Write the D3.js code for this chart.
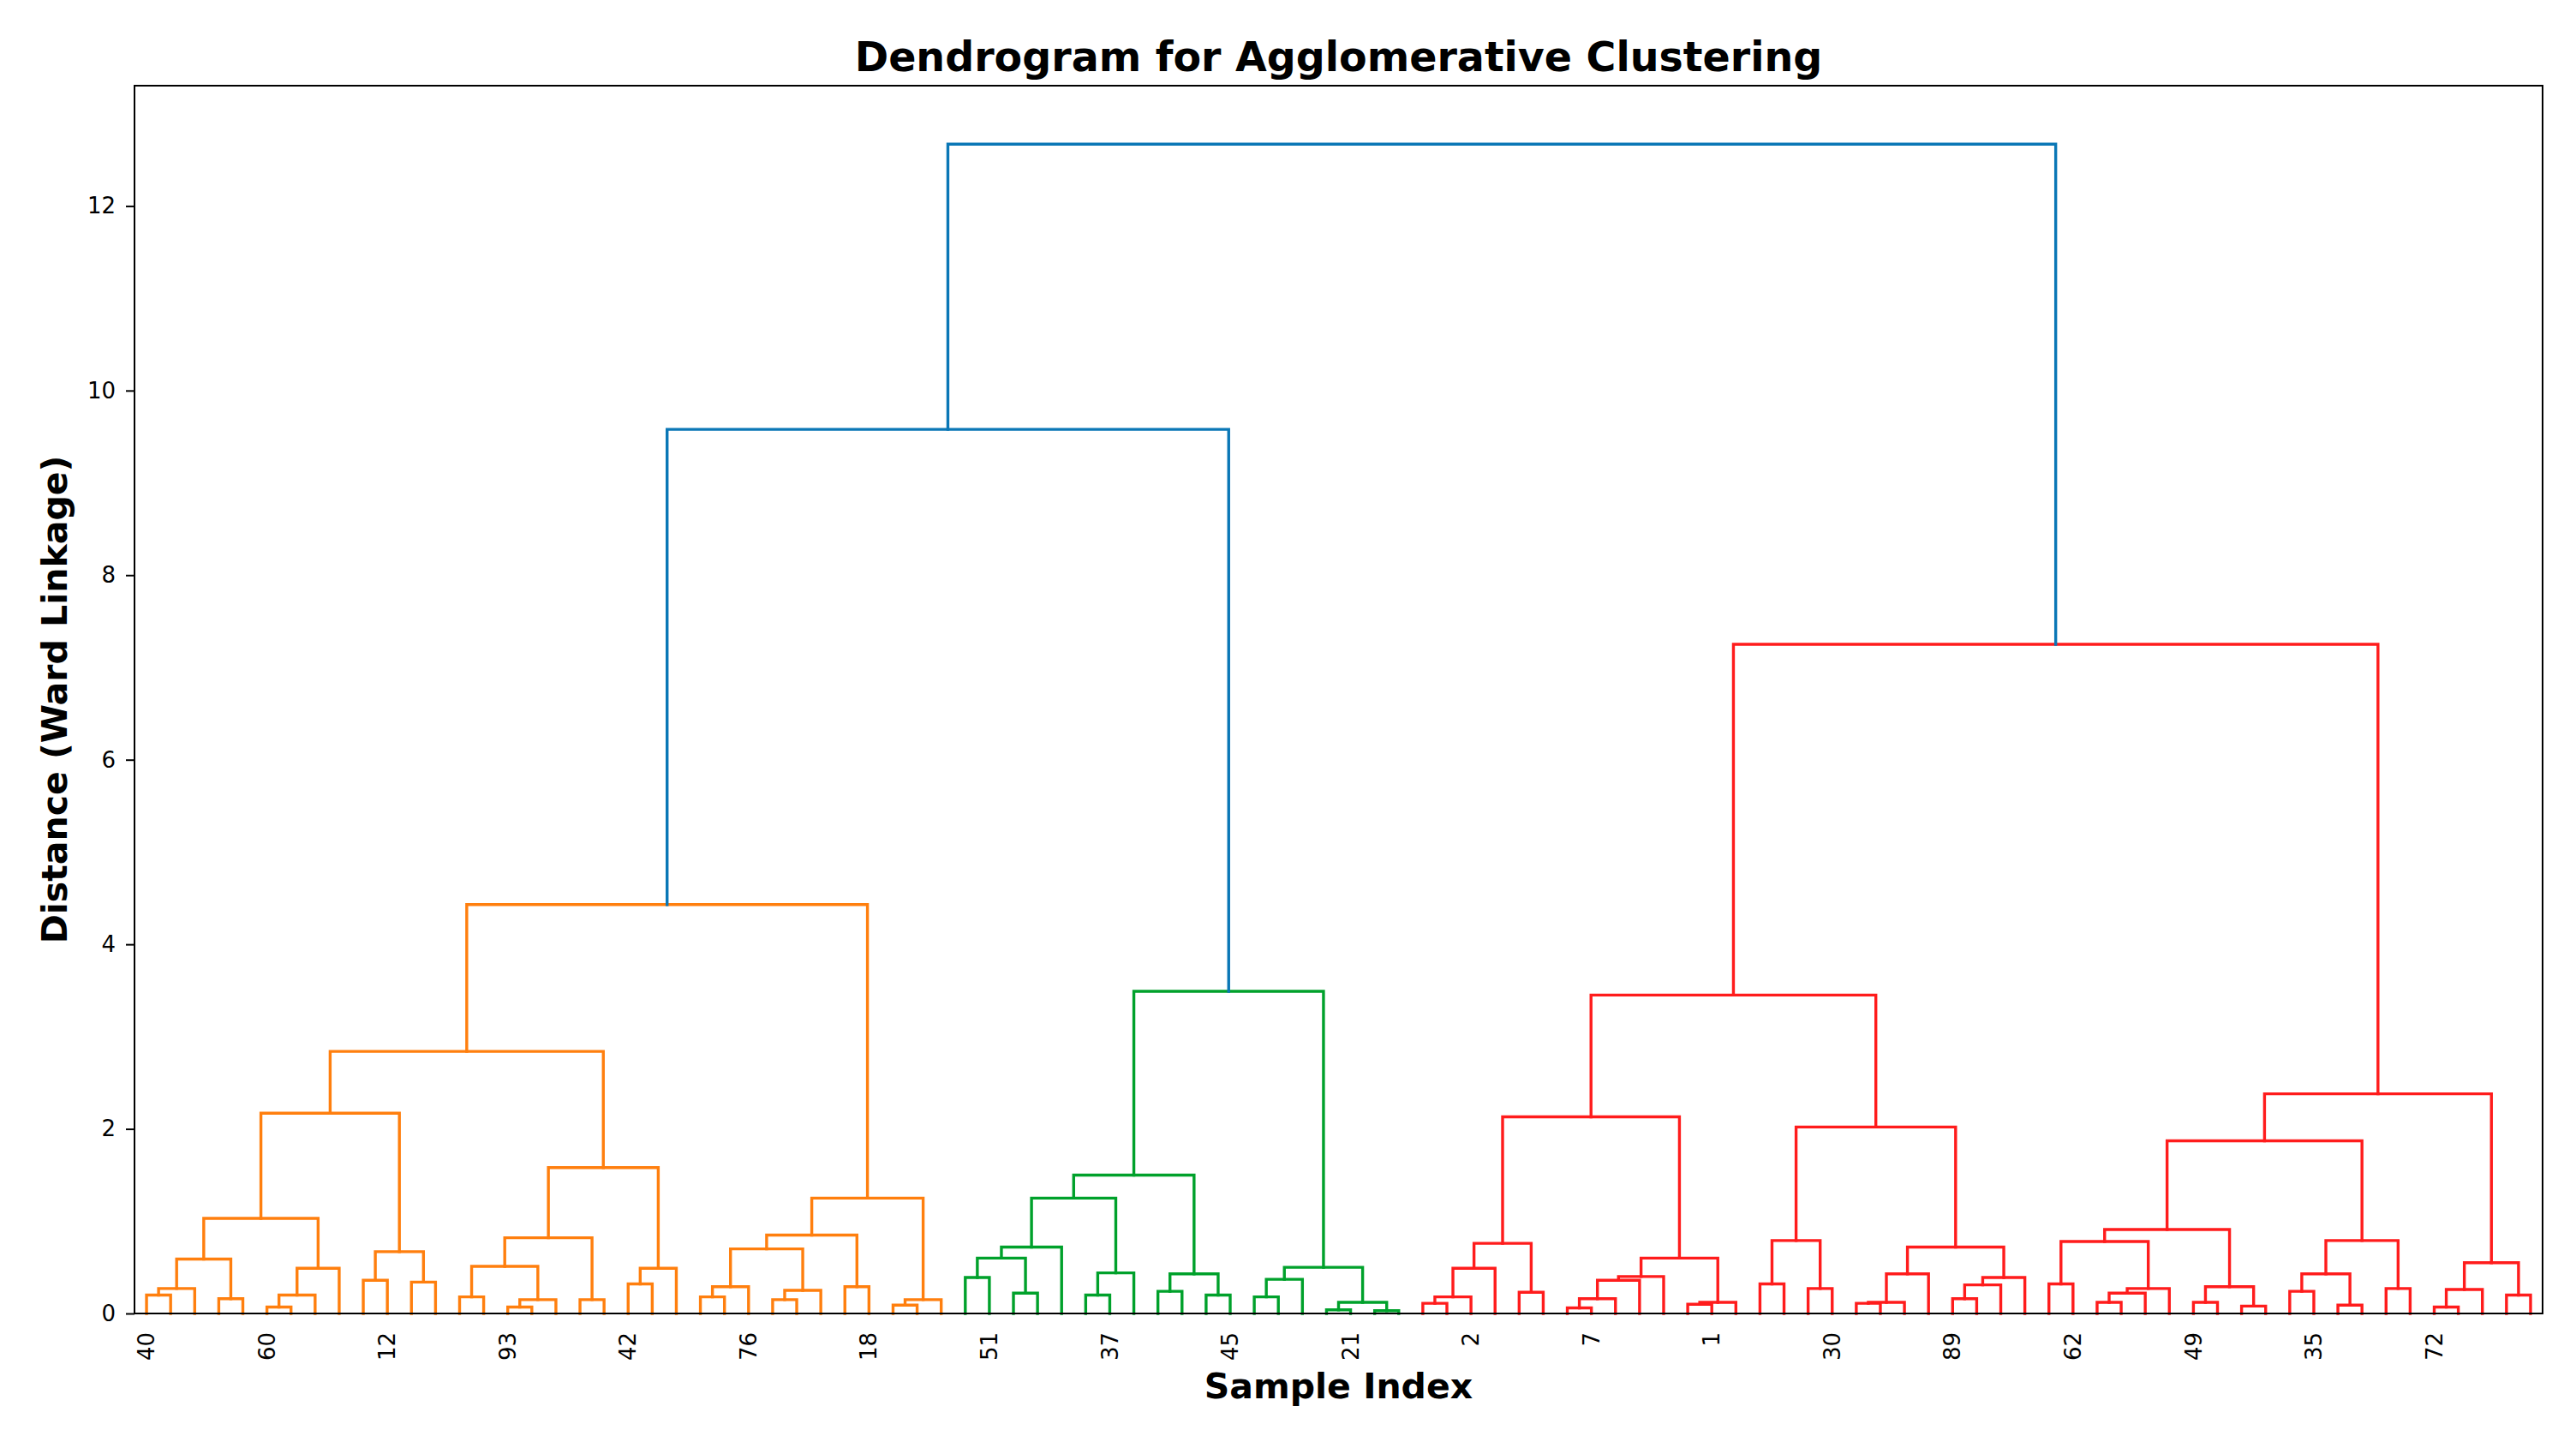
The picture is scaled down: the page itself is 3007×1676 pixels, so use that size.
<!DOCTYPE html>
<html>
<head>
<meta charset="utf-8">
<script src="https://cdn.jsdelivr.net/npm/d3@7"></script>
<style>
  html, body { margin: 0; padding: 0; background: #ffffff; }
  svg { display: block; }
  text { font-family: "DejaVu Sans", sans-serif; }
</style>
</head>
<body>
<div id="chart"></div>
<script>
// ---------------- DATA ----------------
const leafCount = 100;

// leaf positions (display order) that carry a tick label, and their labels
const tickLeafPositions = [0, 5, 10, 15, 20, 25, 30, 35, 40, 45, 50, 55, 60, 65, 70, 75, 80, 85, 90, 95];
const tickLabels = ["40", "60", "12", "93", "42", "76", "18", "51", "37", "45",
                    "21", "2", "7", "1", "30", "89", "62", "49", "35", "72"];

// linkage: [childA, childB, distance]; ids 0..99 are leaves (display order),
// id 100+k refers to merge k of this list
const merges = [
  [0, 1, 0.20], [100, 2, 0.27], [3, 4, 0.16], [101, 102, 0.59],
  [5, 6, 0.07], [104, 7, 0.20], [105, 8, 0.49], [103, 106, 1.03],
  [9, 10, 0.36], [11, 12, 0.34], [108, 109, 0.67], [107, 110, 2.17],
  [13, 14, 0.18], [15, 16, 0.07], [113, 17, 0.15], [112, 114, 0.51],
  [18, 19, 0.15], [115, 116, 0.82], [20, 21, 0.32], [118, 22, 0.49],
  [117, 119, 1.58], [111, 120, 2.84], [23, 24, 0.18], [122, 25, 0.29],
  [26, 27, 0.15], [124, 28, 0.25], [123, 125, 0.70], [29, 30, 0.29],
  [126, 127, 0.85], [31, 32, 0.09], [129, 33, 0.15], [128, 130, 1.25],
  [121, 131, 4.43],
  [34, 35, 0.39], [36, 37, 0.22], [133, 134, 0.60], [135, 38, 0.72],
  [39, 40, 0.20], [137, 41, 0.44], [136, 138, 1.25], [42, 43, 0.24],
  [44, 45, 0.20], [140, 141, 0.43], [139, 142, 1.50], [46, 47, 0.18],
  [144, 48, 0.37], [49, 50, 0.04], [51, 52, 0.03], [146, 147, 0.12],
  [145, 148, 0.50], [143, 149, 3.49],
  [53, 54, 0.11], [151, 55, 0.18], [152, 56, 0.49], [57, 58, 0.23],
  [153, 154, 0.76], [59, 60, 0.06], [156, 61, 0.16], [157, 62, 0.36],
  [158, 63, 0.40], [64, 65, 0.10], [160, 66, 0.12], [159, 161, 0.60],
  [155, 162, 2.13], [67, 68, 0.32], [69, 70, 0.27], [164, 165, 0.79],
  [71, 72, 0.11], [167, 73, 0.12], [168, 74, 0.43], [75, 76, 0.16],
  [170, 77, 0.31], [171, 78, 0.39], [169, 172, 0.72], [166, 173, 2.02],
  [163, 174, 3.45], [79, 80, 0.32], [81, 82, 0.12], [177, 83, 0.22],
  [178, 84, 0.27], [176, 179, 0.78], [85, 86, 0.12], [87, 88, 0.08],
  [181, 182, 0.29], [180, 183, 0.91], [89, 90, 0.24], [91, 92, 0.09],
  [185, 186, 0.43], [93, 94, 0.27], [187, 188, 0.79], [184, 189, 1.87],
  [95, 96, 0.07], [191, 97, 0.26], [98, 99, 0.20], [192, 193, 0.55],
  [190, 194, 2.38], [175, 195, 7.25],
  [132, 150, 9.58], [197, 196, 12.67]
];

const yTickValues = [0, 2, 4, 6, 8, 10, 12];
const clusterPalette = ["#ff7f0e", "#00a12b", "#ff1c1c"];
const aboveThresholdColor = "#0a77b6";

const titleText = "Dendrogram for Agglomerative Clustering";
const xLabelText = "Sample Index";
const yLabelText = "Distance (Ward Linkage)";

// ---------------- LAYOUT ----------------
const W = 3007, H = 1676;
const plot = { left: 157, right: 2968, top: 100, bottom: 1533 };

const svg = d3.select("#chart").append("svg")
  .attr("width", W).attr("height", H)
  .attr("viewBox", `0 0 ${W} ${H}`);
svg.append("rect").attr("width", W).attr("height", H).attr("fill", "#ffffff");

const maxDist = d3.max(merges, d => d[2]);
const x = d3.scaleLinear().domain([0, leafCount * 10]).range([plot.left, plot.right]);
const y = d3.scaleLinear().domain([0, maxDist * 1.05]).range([plot.bottom, plot.top]);

// node coordinates (in data units)
const nodeX = [], nodeH = [];
for (let i = 0; i < leafCount; i++) { nodeX[i] = 5 + 10 * i; nodeH[i] = 0; }
merges.forEach((m, k) => {
  nodeX[leafCount + k] = (nodeX[m[0]] + nodeX[m[1]]) / 2;
  nodeH[leafCount + k] = m[2];
});

// colours: clusters below 0.7*max distance, assigned left to right
const threshold = 0.7 * maxDist;
const linkColor = new Array(merges.length);
let paletteIdx = 0;
function assign(node, color) {
  if (node < leafCount) return;
  const m = merges[node - leafCount];
  let c = color;
  if (c == null && m[2] < threshold) {
    c = clusterPalette[paletteIdx % clusterPalette.length];
    paletteIdx++;
  }
  linkColor[node - leafCount] = c == null ? aboveThresholdColor : c;
  assign(m[0], c);
  assign(m[1], c);
}
assign(leafCount + merges.length - 1, null);

// ---------------- LINKS ----------------
const links = svg.append("g").attr("fill", "none").attr("stroke-width", 3.4)
  .attr("stroke-linejoin", "miter").attr("stroke-linecap", "square");
links.selectAll("path")
  .data(merges.map((m, k) => ({ m, k })))
  .join("path")
  .attr("stroke", d => linkColor[d.k])
  .attr("d", d => {
    const [a, b, h] = d.m;
    const p = d3.path();
    p.moveTo(x(nodeX[a]), y(nodeH[a]));
    p.lineTo(x(nodeX[a]), y(h));
    p.lineTo(x(nodeX[b]), y(h));
    p.lineTo(x(nodeX[b]), y(nodeH[b]));
    return p.toString();
  });

// ---------------- AXES ----------------
const yAxis = d3.axisLeft(y).tickValues(yTickValues).tickSize(10).tickPadding(12)
  .tickFormat(d3.format("d"));
const gy = svg.append("g").attr("transform", `translate(${plot.left},0)`).call(yAxis);
gy.select(".domain").remove();
gy.selectAll(".tick line").attr("stroke", "#000").attr("stroke-width", 2);
gy.selectAll(".tick text").attr("fill", "#000")
  .style("font-family", "'DejaVu Sans', sans-serif").style("font-size", "26px");

// x tick labels (rotated 90deg)
const gx = svg.append("g");
gx.selectAll("text")
  .data(tickLeafPositions.map((p, i) => ({ p, label: tickLabels[i] })))
  .join("text")
  .attr("transform", d => `translate(${x(5 + 10 * d.p)},${plot.bottom + 22}) rotate(-90)`)
  .attr("text-anchor", "end")
  .attr("dy", "0.35em")
  .attr("fill", "#000")
  .style("font-size", "26px")
  .text(d => d.label);

// frame
svg.append("rect")
  .attr("x", plot.left).attr("y", plot.top)
  .attr("width", plot.right - plot.left).attr("height", plot.bottom - plot.top)
  .attr("fill", "none").attr("stroke", "#000").attr("stroke-width", 2);

// ---------------- TITLES ----------------
svg.append("text")
  .attr("x", (plot.left + plot.right) / 2).attr("y", 83)
  .attr("text-anchor", "middle")
  .style("font-size", "47.5px").style("font-weight", "bold")
  .attr("fill", "#000")
  .text(titleText);

svg.append("text")
  .attr("x", (plot.left + plot.right) / 2).attr("y", 1632)
  .attr("text-anchor", "middle")
  .style("font-size", "41px").style("font-weight", "bold")
  .attr("fill", "#000")
  .text(xLabelText);

svg.append("text")
  .attr("transform", `translate(78,${(plot.top + plot.bottom) / 2}) rotate(-90)`)
  .attr("text-anchor", "middle")
  .style("font-size", "41px").style("font-weight", "bold")
  .attr("fill", "#000")
  .text(yLabelText);
</script>
</body>
</html>
